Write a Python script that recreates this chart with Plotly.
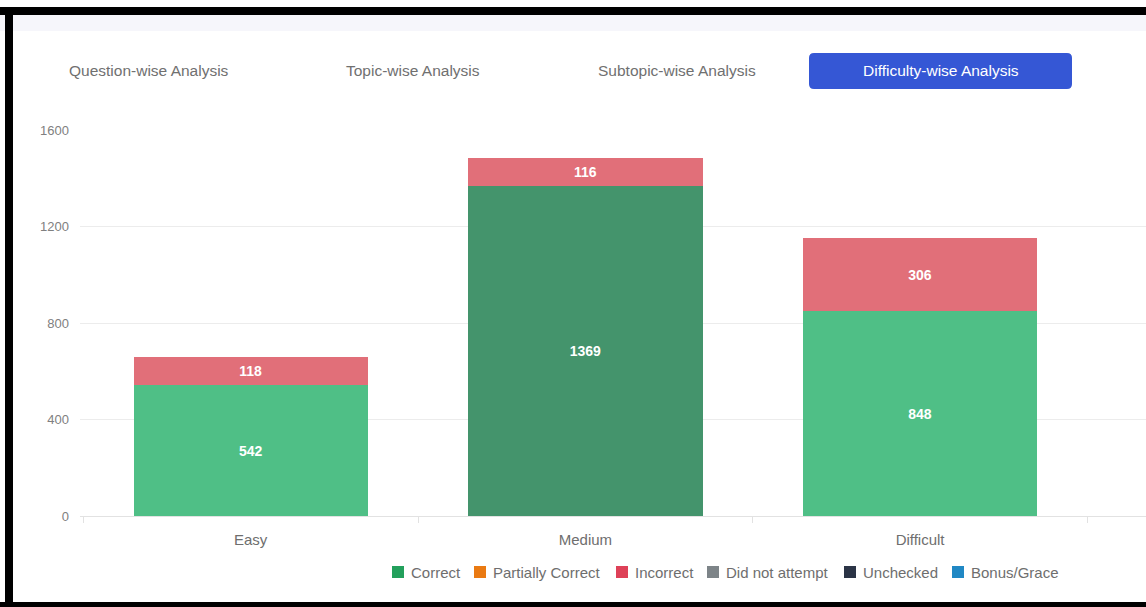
import plotly.graph_objects as go

# data
categories = ["Easy", "Medium", "Difficult"]
correct = [542, 1369, 848]
incorrect = [118, 116, 306]

legend_names = ["Correct", "Partially Correct", "Incorrect", "Did not attempt", "Unchecked", "Bonus/Grace"]
legend_colors = ["#23a05c", "#ea7a12", "#de4158", "#7d8488", "#2b3446", "#2088c4"]

tabs = ["Question-wise Analysis", "Topic-wise Analysis", "Subtopic-wise Analysis", "Difficulty-wise Analysis"]

W, H = 1146, 607
L, R, T, B = 80, 0, 130, 91
FONT = "Liberation Sans"


def px(x):
    return (x - L) / (W - L - R)


def py(y):
    return (H - B - y) / (H - T - B)


fig = go.Figure()

# bars (Medium shown in hover state, darker)
label_font = dict(color="white", size=14, family=FONT, weight="bold")
fig.add_trace(go.Bar(
    x=categories, y=correct, name="Correct", showlegend=False,
    marker=dict(color=["#4fbf86", "#44946c", "#4fbf86"], line=dict(width=0)),
    text=[str(v) for v in correct], textposition="inside", insidetextanchor="middle",
    textfont=label_font, textangle=0, constraintext="none", width=0.7, hoverinfo="skip",
))
fig.add_trace(go.Bar(
    x=categories, y=incorrect, name="Incorrect", showlegend=False,
    marker=dict(color="#e16f79", line=dict(width=0)),
    text=[str(v) for v in incorrect], textposition="inside", insidetextanchor="middle",
    textfont=label_font, textangle=0, constraintext="none", width=0.7, hoverinfo="skip",
))

shapes = []
annotations = []

# top lavender strip
shapes.append(dict(type="rect", xref="paper", yref="paper", x0=px(0), x1=px(W), y0=py(31), y1=py(15),
                   fillcolor="#f6f6fb", line=dict(width=0), layer="below"))
# black frame
for x0, x1, y0, y1 in [(0, W, 7, 15), (5, 13, 7, H), (0, W, 602, H)]:
    shapes.append(dict(type="rect", xref="paper", yref="paper", x0=px(x0), x1=px(x1), y0=py(y1), y1=py(y0),
                       fillcolor="black", line=dict(width=0), layer="above"))

# active tab button (rounded)
bx0, bx1, by0, by1, r = px(809), px(1072), py(89), py(53), 5
rx, ry = r / (W - L - R), r / (H - T - B)
path = (f"M {bx0 + rx},{by0} L {bx1 - rx},{by0} Q {bx1},{by0} {bx1},{by0 + ry} "
        f"L {bx1},{by1 - ry} Q {bx1},{by1} {bx1 - rx},{by1} L {bx0 + rx},{by1} "
        f"Q {bx0},{by1} {bx0},{by1 - ry} L {bx0},{by0 + ry} Q {bx0},{by0} {bx0 + rx},{by0} Z")
shapes.append(dict(type="path", xref="paper", yref="paper", path=path,
                   fillcolor="#3557d5", line=dict(width=0), layer="below"))

tab_x = [149, 413, 677, 941]
for i, (t, x) in enumerate(zip(tabs, tab_x)):
    active = i == len(tabs) - 1
    annotations.append(dict(
        text=t, xref="paper", yref="paper", x=px(x), y=py(71),
        showarrow=False, xanchor="center", yanchor="middle",
        font=dict(size=15.5, color="white" if active else "#707070", family=FONT),
    ))

# legend (drawn by hand, chart.js style)
legend_box_x = [392, 474, 616, 707, 844, 952]
for name, col, x in zip(legend_names, legend_colors, legend_box_x):
    shapes.append(dict(type="rect", xref="paper", yref="paper", x0=px(x), x1=px(x + 12),
                       y0=py(578), y1=py(566), fillcolor=col, line=dict(width=0)))
    annotations.append(dict(
        text=name, xref="paper", yref="paper", x=px(x + 18), y=py(572),
        showarrow=False, xanchor="left", yanchor="middle", borderpad=0,
        font=dict(size=15, color="#6e6e6e", family=FONT),
    ))

fig.update_layout(
    width=W, height=H,
    margin=dict(l=L, r=R, t=T, b=B),
    barmode="stack",
    showlegend=False,
    paper_bgcolor="white",
    plot_bgcolor="white",
    font=dict(family=FONT, color="#666666", size=14),
    shapes=shapes,
    annotations=annotations,
    xaxis=dict(
        type="category", range=[-0.51, 2.675], showgrid=False, showline=True, linecolor="#e2e2e2",
        ticks="outside", tickson="boundaries", ticklen=6, tickcolor="#e2e2e2",
        tickfont=dict(size=15, color="#6e6e6e"), ticklabelstandoff=10, fixedrange=True,
    ),
    yaxis=dict(
        range=[0, 1600], dtick=400, showgrid=True, gridcolor="#ececec", zeroline=False,
        tickfont=dict(size=13, color="#808080"), ticklabelstandoff=10, fixedrange=True,
    ),
)

fig.write_html("out.html", config={"displayModeBar": False},
               post_script="document.body.style.margin='0';")
